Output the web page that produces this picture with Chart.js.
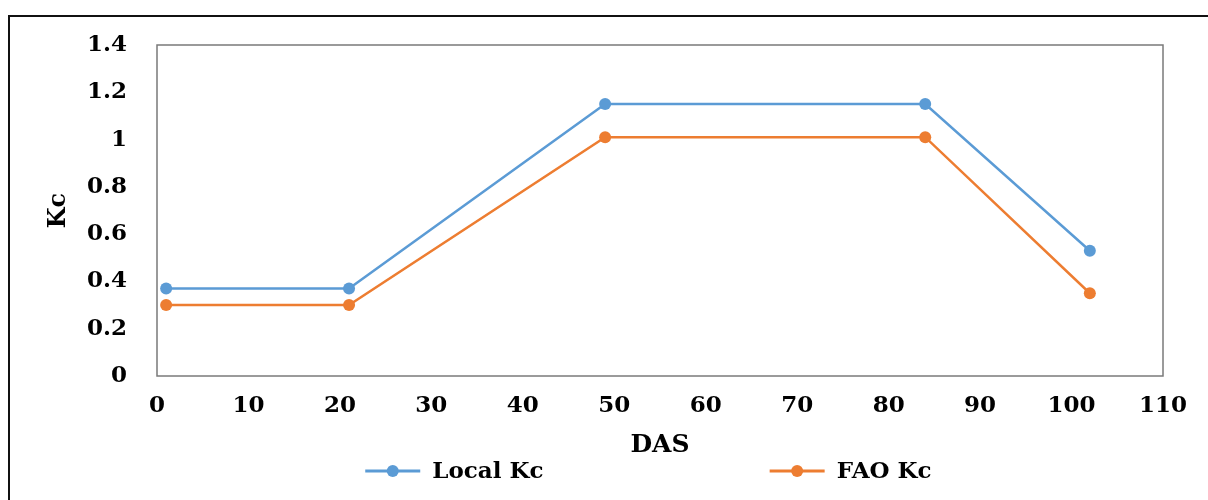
<!DOCTYPE html>
<html>
<head>
<meta charset="utf-8">
<script src="https://cdn.jsdelivr.net/npm/chart.js@4.4.0/dist/chart.umd.min.js"></script>
<style>
  html, body { margin: 0; padding: 0; background: #fff; overflow: hidden; }
  #wrap { position: relative; width: 1208px; height: 500px; }
  #frame { position: absolute; left: 8px; top: 15px; width: 1300px; height: 600px; border: 2px solid #111; pointer-events: none; }
</style>
</head>
<body>
<div id="wrap">
  <canvas id="kcChart" width="1208" height="500"></canvas>
  <div id="frame"></div>
</div>
<script>
// Days after sowing and crop coefficients
const das = [1, 21, 49, 84, 102];
const localKc = [0.37, 0.37, 1.15, 1.15, 0.53];
const faoKc = [0.30, 0.30, 1.01, 1.01, 0.35];
const seriesLabels = ['Local Kc', 'FAO Kc'];
const seriesColors = ['#5B9BD5', '#ED7D31'];

function toPoints(xs, ys) {
  return xs.map((x, i) => ({ x: x, y: ys[i] }));
}

function makeDataset(label, values, color) {
  return {
    label: label,
    data: toPoints(das, values),
    borderColor: color,
    backgroundColor: color,
    borderWidth: 2.5,
    pointRadius: 6,
    pointBorderWidth: 0,
    pointBackgroundColor: color,
    tension: 0
  };
}

// Grey box round the plot area
const plotFrame = {
  id: 'plotFrame',
  beforeDatasetsDraw(chart) {
    const { ctx, chartArea: a } = chart;
    ctx.save();
    ctx.strokeStyle = '#7a7a7a';
    ctx.lineWidth = 1.5;
    ctx.strokeRect(a.left, a.top, a.right - a.left, a.bottom - a.top);
    ctx.restore();
  }
};

// Legend under the axis title, items spread like the Excel original
const spreadLegend = {
  id: 'spreadLegend',
  afterDraw(chart, args, opts) {
    const { ctx, chartArea: a } = chart;
    const width = a.right - a.left;
    ctx.save();
    ctx.font = opts.font;
    ctx.textBaseline = 'middle';
    ctx.textAlign = 'left';
    chart.data.datasets.forEach((ds, i) => {
      const x0 = a.left + opts.starts[i] * width;
      const y = opts.y;
      ctx.strokeStyle = ds.borderColor;
      ctx.lineWidth = 3;
      ctx.beginPath();
      ctx.moveTo(x0, y);
      ctx.lineTo(x0 + opts.lineLength, y);
      ctx.stroke();
      ctx.fillStyle = ds.borderColor;
      ctx.beginPath();
      ctx.arc(x0 + opts.lineLength / 2, y, 6, 0, Math.PI * 2);
      ctx.fill();
      ctx.fillStyle = '#000';
      ctx.fillText(ds.label, x0 + opts.lineLength + 12, y + 1);
    });
    ctx.restore();
  }
};

Chart.defaults.font.family = 'DejaVu Serif';
Chart.defaults.font.weight = 'bold';
Chart.defaults.color = '#000';

new Chart(document.getElementById('kcChart'), {
  type: 'line',
  data: {
    datasets: [
      makeDataset(seriesLabels[0], localKc, seriesColors[0]),
      makeDataset(seriesLabels[1], faoKc, seriesColors[1])
    ]
  },
  options: {
    responsive: false,
    animation: false,
    layout: { padding: { top: 45, right: 45, bottom: 40, left: 0 } },
    plugins: {
      legend: { display: false },
      tooltip: { enabled: false },
      spreadLegend: {
        font: 'bold 23px "DejaVu Serif"',
        starts: [0.207, 0.609],
        lineLength: 55,
        y: 471
      }
    },
    scales: {
      x: {
        type: 'linear',
        min: 0,
        max: 110,
        grid: { display: false, drawTicks: false },
        border: { display: false },
        ticks: { stepSize: 10, padding: 16, font: { size: 23, weight: 'bold' } },
        title: { display: true, text: 'DAS', font: { size: 25, weight: 'bold' }, padding: { top: 0, bottom: 0 } },
        afterFit(scale) { scale.height = 84; }
      },
      y: {
        min: 0,
        max: 1.4,
        grid: { display: false, drawTicks: false },
        border: { display: false },
        ticks: {
          stepSize: 0.2,
          padding: 30,
          font: { size: 23, weight: 'bold' },
          callback: (value) => String(Number(value.toFixed(1)))
        },
        title: { display: true, text: 'Kc', font: { size: 24, weight: 'bold' }, padding: { top: 44, bottom: 0 } },
        afterFit(scale) { scale.width = 157; }
      }
    }
  },
  plugins: [plotFrame, spreadLegend]
});
</script>
</body>
</html>
